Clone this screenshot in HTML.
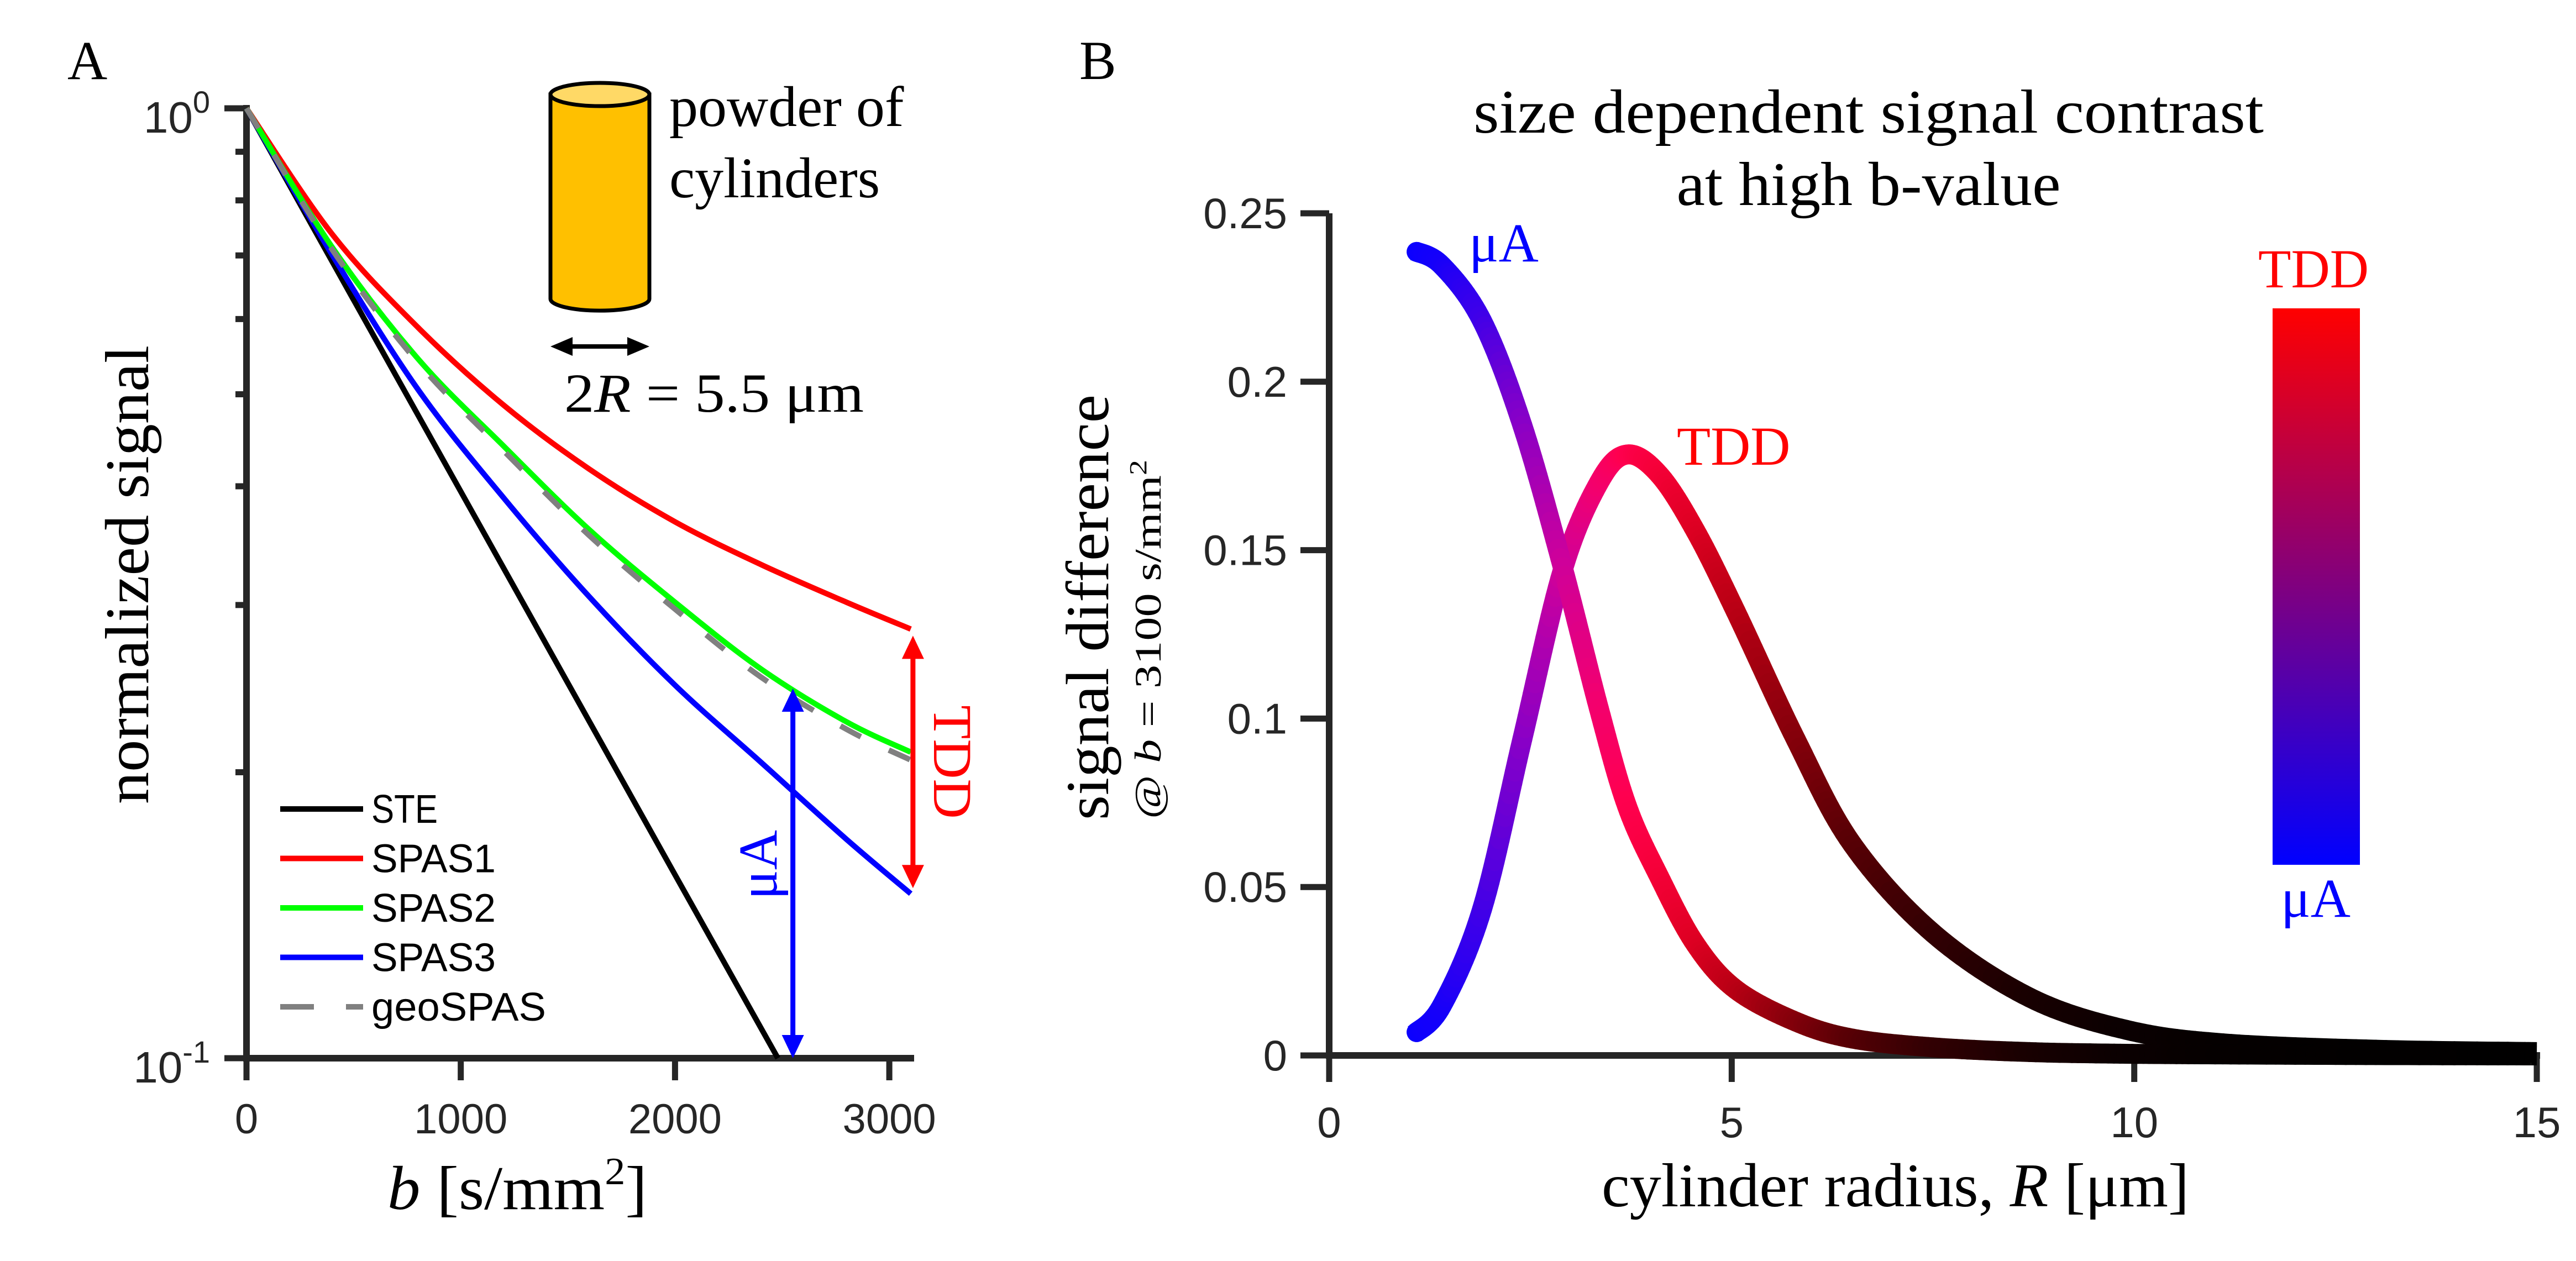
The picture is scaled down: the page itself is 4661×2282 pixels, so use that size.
<!DOCTYPE html>
<html><head><meta charset="utf-8"><style>
html,body{margin:0;padding:0;background:#fff;}
svg{display:block;}
.serif{font-family:"Liberation Serif",serif;}
.sans{font-family:"Liberation Sans",sans-serif;}
</style></head>
<body>
<svg id="fig" width="4661" height="2282" viewBox="0 0 4661 2282" xmlns="http://www.w3.org/2000/svg">
<defs>
<linearGradient id="cbar" x1="0" y1="1" x2="0" y2="0">
<stop offset="0" stop-color="#0000ff"/><stop offset="1" stop-color="#ff0000"/>
</linearGradient>
</defs>
<g id="panelA"></g>
<g id="panelB"></g>
</svg>
<script>
// ---------- Panel A data ----------
const bValues = [0, 400, 800, 1200, 1600, 2000, 2400, 2800, 3100];
const spas1 = [1, 0.737, 0.588, 0.487, 0.417, 0.367, 0.331, 0.302, 0.283];
const spas2 = [1, 0.714, 0.545, 0.441, 0.360, 0.302, 0.257, 0.226, 0.210];
const spas3 = [1, 0.701, 0.506, 0.389, 0.306, 0.247, 0.205, 0.170, 0.149];
const geoSpas = [1, 0.710, 0.540, 0.436, 0.355, 0.297, 0.252, 0.222, 0.206];
const steB = [0, 1000, 2000, 2480];
const steValues = [1, 0.395, 0.156, 0.1];
const xTicksA = [0, 1000, 2000, 3000];
const legendLabels = ["STE", "SPAS1", "SPAS2", "SPAS3", "geoSPAS"];
const muAArrowB = 2550;
const tddArrowB = 3100;

// ---------- Panel B data ----------
const radii = [1.06,1.4,1.9,2.4,2.9,3.35,3.7,4.1,4.55,5.05,5.8,6.5,7.5,8.7,9.9,11.1,13,15];
const muAValues = [0.2388,0.2345,0.218,0.187,0.145,0.103,0.074,0.053,0.033,0.0196,0.010,0.005,0.0024,0.001,0.0005,0.0003,0.0001,0];
const tddValues = [0.0064,0.0148,0.0435,0.094,0.144,0.170,0.1784,0.1724,0.1557,0.1318,0.0936,0.0626,0.0363,0.0172,0.0076,0.0036,0.0017,0.001];
const xTicksB = [0, 5, 10, 15];
const yTicksB = [0, 0.05, 0.1, 0.15, 0.2, 0.25];
const yTickLabelsB = ["0", "0.05", "0.1", "0.15", "0.2", "0.25"];

const NS = "http://www.w3.org/2000/svg";
function mk(parent, tag, attrs, text){
  const e = document.createElementNS(NS, tag);
  for (const k in attrs) e.setAttribute(k, attrs[k]);
  if (text !== undefined) e.textContent = text;
  parent.appendChild(e);
  return e;
}
function smoothPath(pts){
  let d = "M" + pts[0][0] + "," + pts[0][1];
  for (let i = 0; i < pts.length - 1; i++){
    const p0 = pts[Math.max(0,i-1)], p1 = pts[i], p2 = pts[i+1], p3 = pts[Math.min(pts.length-1,i+2)];
    const c1x = p1[0] + (p2[0]-p0[0])/6, c1y = p1[1] + (p2[1]-p0[1])/6;
    const c2x = p2[0] - (p3[0]-p1[0])/6, c2y = p2[1] - (p3[1]-p1[1])/6;
    d += " C" + c1x + "," + c1y + " " + c2x + "," + c2y + " " + p2[0] + "," + p2[1];
  }
  return d;
}
const AX = "#262626";

// ================= PANEL A =================
const A = document.getElementById("panelA");
const xA = b => 446 + b * 0.3877;
const yA = v => 196 + (-Math.log10(v)) * 1719;

let t;
t = mk(A, "text", {x:122, y:143, "font-size":100, class:"serif"}, "A");



for (let k = 2; k <= 9; k++){
  const l = mk(A, "line", {x1:426, x2:446, y1:yA(k/10), y2:yA(k/10), stroke:AX, "stroke-width":11});
  
  
}
[1, 0.1].forEach(v => {
  const l = mk(A, "line", {x1:406, x2:446, y1:yA(v), y2:yA(v), stroke:AX, "stroke-width":11});
  
  
});
[[1,"0"],[0.1,"-1"]].forEach(([v,e]) => {
  const g = mk(A, "text", {x:380, y:yA(v)+44, "font-size":80, class:"sans", fill:"#262626", "text-anchor":"end"});
  
  
  mk(g, "tspan", {}, "10");
  mk(g, "tspan", {dy:-36, "font-size":56}, e);
});
xTicksA.forEach(b => {
  const l = mk(A, "line", {x1:xA(b), x2:xA(b), y1:1915, y2:1955, stroke:AX, "stroke-width":11});
  
  
  const tl = mk(A, "text", {x:xA(b), y:2051, "font-size":76, class:"sans", fill:"#262626", "text-anchor":"middle"}, String(b));
  
  
});
let ax = mk(A, "path", {d:"M446,190 L446,1915 L1654,1915", stroke:AX, "stroke-width":12, fill:"none"});



const curvesA = [
  {xs:steB, ys:steValues, c:"#000000", n:"ste-line", dash:null},
  {xs:bValues, ys:spas1, c:"#ff0000", n:"spas1-line", dash:null},
  {xs:bValues, ys:spas3, c:"#0000ff", n:"spas3-line", dash:null},
  {xs:bValues, ys:spas2, c:"#00ff00", n:"spas2-line", dash:null},
  {xs:bValues, ys:geoSpas, c:"#808080", n:"geospas-line", dash:"42 56"}
];
curvesA.forEach(cv => {
  const pts = cv.xs.map((b,i) => [xA(b), yA(cv.ys[i])]);
  const d = cv.n === "ste-line" ? "M" + pts.map(p=>p.join(",")).join(" L") : smoothPath(pts);
  const p = mk(A, "path", {d:d, stroke:cv.c, "stroke-width":10, fill:"none"});
  if (cv.dash) p.setAttribute("stroke-dasharray", cv.dash);
  
  
});

function vArrow(parent, x, y1, y2, color, name){
  const g = mk(parent, "g", {});
  
  
  const top = Math.min(y1,y2), bot = Math.max(y1,y2);
  mk(g, "line", {x1:x, x2:x, y1:top+30, y2:bot-30, stroke:color, "stroke-width":9});
  mk(g, "polygon", {points:`${x},${top} ${x-20},${top+42} ${x+20},${top+42}`, fill:color});
  mk(g, "polygon", {points:`${x},${bot} ${x-20},${bot-42} ${x+20},${bot-42}`, fill:color});
}
vArrow(A, xA(muAArrowB), yA(0.1), yA(0.245), "#0000ff", "mua-arrow");
vArrow(A, xA(tddArrowB)+4, yA(spas1[spas1.length-1])+12, yA(spas3[spas3.length-1])-10, "#ff0000", "tdd-arrow");

t = mk(A, "text", {x:0, y:0, "font-size":100, class:"serif", fill:"#0000ff", "text-anchor":"middle", transform:"translate(1405,1565) rotate(-90)"}, "μA");


t = mk(A, "text", {x:0, y:0, "font-size":100, class:"serif", fill:"#ff0000", "text-anchor":"middle", transform:"translate(1690,1379) rotate(90)"}, "TDD");



const legColors = ["#000000","#ff0000","#00ff00","#0000ff","#808080"];
legendLabels.forEach((lab, i) => {
  const yb = 1489 + i*89.5;
  const g = mk(A, "g", {});
  
  
  if (i < 4) mk(g, "line", {x1:507, x2:657, y1:yb-25, y2:yb-25, stroke:legColors[i], "stroke-width":10});
  else mk(g, "path", {d:`M507,${yb-25} L568,${yb-25} M626,${yb-25} L657,${yb-25}`, stroke:legColors[i], "stroke-width":10});
  mk(g, "text", {x:672, y:yb, "font-size":72, class:"sans", fill:"#000", textLength: [120,225,225,225,316][i], lengthAdjust:"spacingAndGlyphs"}, lab);
});

const cyl = mk(A, "g", {});


mk(cyl, "path", {d:"M996,171 L996,541 A89,21 0 0 0 1175,541 L1175,171 Z", fill:"#ffc000", stroke:"#000", "stroke-width":7});
mk(cyl, "ellipse", {cx:1085.5, cy:171, rx:89.5, ry:21, fill:"#ffd966", stroke:"#000", "stroke-width":7});
mk(cyl, "line", {x1:1025, x2:1146, y1:627, y2:627, stroke:"#000", "stroke-width":8});
mk(cyl, "polygon", {points:"996,627 1036,610 1036,644", fill:"#000"});
mk(cyl, "polygon", {points:"1175,627 1135,610 1135,644", fill:"#000"});
t = mk(A, "text", {x:1211, y:228, "font-size":104, class:"serif"}, "powder of");


t = mk(A, "text", {x:1211, y:357, "font-size":104, class:"serif"}, "cylinders");


t = mk(A, "text", {x:1021, y:745, "font-size":100, class:"serif", textLength:542, lengthAdjust:"spacingAndGlyphs"});


mk(t, "tspan", {}, "2");
mk(t, "tspan", {"font-style":"italic"}, "R");
mk(t, "tspan", {}, " = 5.5 μm");

t = mk(A, "text", {x:0, y:0, "font-size":112, class:"serif", "text-anchor":"middle", textLength:830, lengthAdjust:"spacingAndGlyphs", transform:"translate(268,1040) rotate(-90)"}, "normalized signal");


t = mk(A, "text", {x:701, y:2188, "font-size":112, class:"serif", textLength:470, lengthAdjust:"spacingAndGlyphs"});


mk(t, "tspan", {"font-style":"italic"}, "b");
mk(t, "tspan", {}, " [s/mm");
mk(t, "tspan", {dy:-45, "font-size":70}, "2");
mk(t, "tspan", {dy:45}, "]");

// ================= PANEL B =================
const B = document.getElementById("panelB");
const xB = r => 2405 + r * 145.67;
const yB = v => 1910 - v * 6096;

t = mk(B, "text", {x:1953, y:143, "font-size":100, class:"serif"}, "B");


t = mk(B, "text", {x:3381, y:240, "font-size":112, class:"serif", "text-anchor":"middle", textLength:1430, lengthAdjust:"spacingAndGlyphs"}, "size dependent signal contrast");


t = mk(B, "text", {x:3381, y:371, "font-size":112, class:"serif", "text-anchor":"middle", textLength:695, lengthAdjust:"spacingAndGlyphs"}, "at high b-value");



yTicksB.forEach((v,i) => {
  const l = mk(B, "line", {x1:2353, x2:2405, y1:yB(v), y2:yB(v), stroke:AX, "stroke-width":11});
  
  
  const tl = mk(B, "text", {x:2329, y:yB(v)+27, "font-size":78, class:"sans", fill:"#262626", "text-anchor":"end"}, yTickLabelsB[i]);
  
  
});
xTicksB.forEach(r => {
  const l = mk(B, "line", {x1:xB(r), x2:xB(r), y1:1910, y2:1958, stroke:AX, "stroke-width":11});
  
  
  const tl = mk(B, "text", {x:xB(r), y:2058, "font-size":78, class:"sans", fill:"#262626", "text-anchor":"middle"}, String(r));
  
  
});
ax = mk(B, "path", {d:`M2405,${yB(0.25)} L2405,1910 L${xB(15)+6},1910`, stroke:AX, "stroke-width":12, fill:"none"});



const maxMu = Math.max(...muAValues), maxTdd = Math.max(...tddValues);
function colorAt(i){
  const r = Math.round(255 * Math.min(1, tddValues[i]/maxTdd));
  const b = Math.round(255 * Math.min(1, muAValues[i]/maxMu));
  return [r,b];
}
function drawColored(vals, name){
  const g = mk(B, "g", {});
  
  
  const pts = radii.map((r,i) => [xB(r), yB(vals[i])]);
  const N = 16;
  const last = pts.length-2;
  for (let i = 0; i < pts.length-1; i++){
    const p0 = pts[Math.max(0,i-1)], p1 = pts[i], p2 = pts[i+1], p3 = pts[Math.min(pts.length-1,i+2)];
    const c1 = [p1[0]+(p2[0]-p0[0])/6, p1[1]+(p2[1]-p0[1])/6];
    const c2 = [p2[0]-(p3[0]-p1[0])/6, p2[1]-(p3[1]-p1[1])/6];
    const ca = colorAt(i), cb = colorAt(i+1);
    let prev = p1;
    for (let k = 1; k <= N; k++){
      const s = k/N, u = 1-s;
      const x = u*u*u*p1[0] + 3*u*u*s*c1[0] + 3*u*s*s*c2[0] + s*s*s*p2[0];
      const y = u*u*u*p1[1] + 3*u*u*s*c1[1] + 3*u*s*s*c2[1] + s*s*s*p2[1];
      const m = (k-0.5)/N;
      const rr = Math.round(ca[0]*(1-m)+cb[0]*m), bb = Math.round(ca[1]*(1-m)+cb[1]*m);
      const edge = (i===0 && k<=2) || (i===last && k>=N-1);
      const seg = mk(g, "line", {x1:prev[0], y1:prev[1], x2:x, y2:y, stroke:`rgb(${rr},0,${bb})`, "stroke-width":36, "stroke-linecap": edge ? "butt" : "round"});
      
      
      prev = [x,y];
    }
  }
}
drawColored(tddValues, "tdd-curve");
drawColored(muAValues, "mua-curve");

t = mk(B, "text", {x:2658, y:473, "font-size":100, class:"serif", fill:"#0000ff"}, "μA");


t = mk(B, "text", {x:3034, y:841, "font-size":100, class:"serif", fill:"#ff0000"}, "TDD");



let cb = mk(B, "rect", {x:4112, y:558, width:158, height:1007, fill:"url(#cbar)"});


t = mk(B, "text", {x:4186, y:520, "font-size":100, class:"serif", fill:"#ff0000", "text-anchor":"middle", textLength:200, lengthAdjust:"spacingAndGlyphs"}, "TDD");


t = mk(B, "text", {x:4190, y:1659, "font-size":100, class:"serif", fill:"#0000ff", "text-anchor":"middle"}, "μA");



t = mk(B, "text", {x:0, y:0, "font-size":110, class:"serif", "text-anchor":"middle", textLength:770, lengthAdjust:"spacingAndGlyphs", transform:"translate(2005,1099) rotate(-90)"}, "signal difference");


t = mk(B, "text", {x:0, y:0, "font-size":68, class:"serif", "text-anchor":"middle", textLength:650, lengthAdjust:"spacingAndGlyphs", transform:"translate(2100,1157) rotate(-90)"});


mk(t, "tspan", {}, "@ ");
mk(t, "tspan", {"font-style":"italic"}, "b");
mk(t, "tspan", {}, " = 3100 s/mm");
mk(t, "tspan", {dy:-26, "font-size":44}, "2");
t = mk(B, "text", {x:2898, y:2183, "font-size":112, class:"serif", textLength:1063, lengthAdjust:"spacingAndGlyphs"});


mk(t, "tspan", {}, "cylinder radius, ");
mk(t, "tspan", {"font-style":"italic"}, "R");
mk(t, "tspan", {}, " [μm]");
</script>
</body></html>
